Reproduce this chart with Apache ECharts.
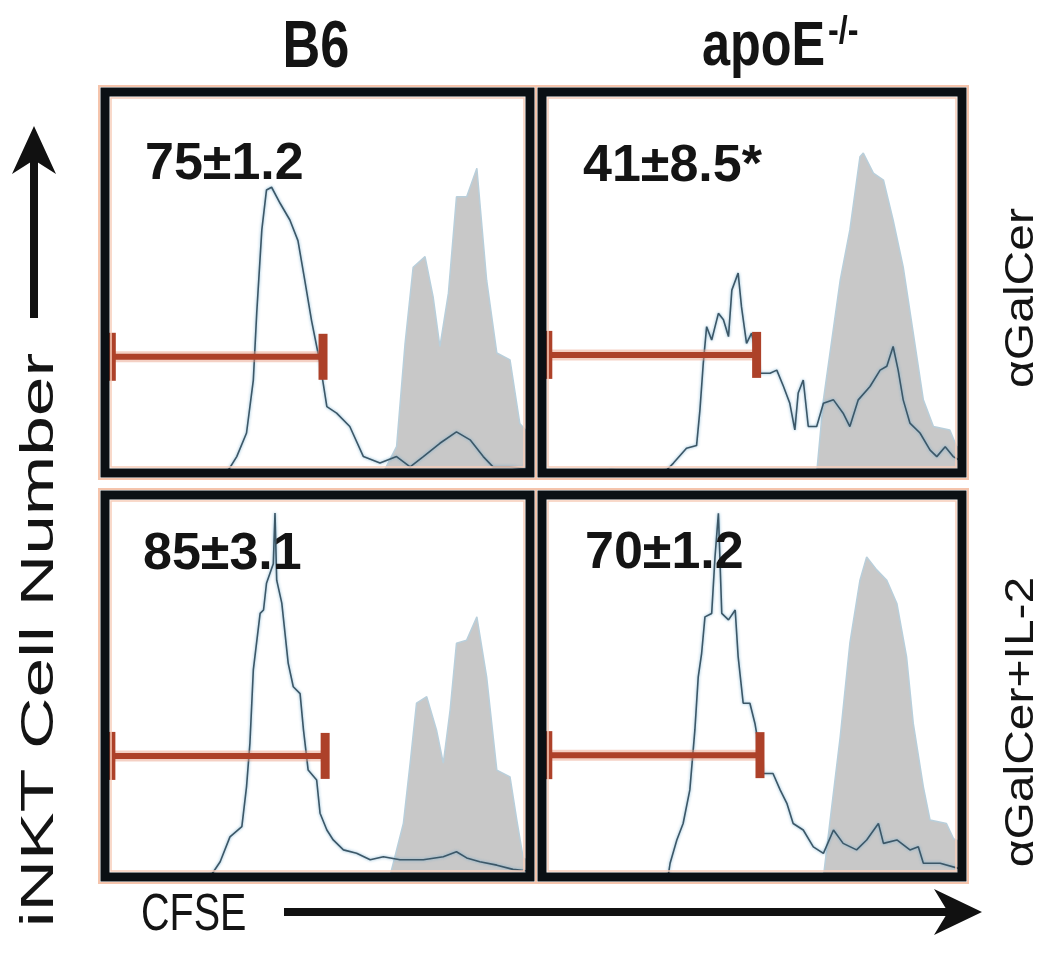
<!DOCTYPE html>
<html>
<head>
<meta charset="utf-8">
<script src="https://cdn.jsdelivr.net/npm/echarts@6/dist/echarts.min.js"></script>
<style>
  html, body { margin: 0; padding: 0; background: #fff; }
  #chart { width: 1050px; height: 976px; }
</style>
</head>
<body>
<div id="chart"></div>
<script>
// x = CFSE channel (0-100 across the panel), y = cell count (0-100 of panel height)
var colTitles = ['B6', 'apoE'];
var rowTitles = ['αGalCer', 'αGalCer+IL-2'];
var percentLabels = ['75±1.2', '41±8.5*', '85±3.1', '70±1.2'];

// open histograms (stimulated)
var openB6Gal = [[0,0],[28.6,0],[31,4.3],[33.3,10.5],[34.9,24.4],[35.7,42],[36.9,63.8],[38,74.3],[39.2,75],[41.2,70.8],[43.5,66.4],[45.4,61],[47,50.6],[48.6,40],[50.6,28.8],[52.2,17.4],[54.5,15.7],[57.6,12.2],[60.8,4.3],[64.7,2.6],[68.6,4.3],[71.8,1.6],[74.9,4.3],[78.8,7.8],[82.7,10.8],[85.9,8.7],[89,4.3],[91.3,1.6],[95.3,1.6],[100,1]];
var openApoGal = [[0,0],[16,0],[16.5,0.8],[17.5,0],[29,0],[31.3,2.6],[34.4,6.5],[36.8,7.2],[37.6,16.5],[38.4,28.8],[39.2,38.4],[40.4,34.9],[42,41.9],[43.2,40.2],[44.4,35.8],[45.2,48],[46.7,52.5],[47.5,43.6],[48.7,34],[49.9,36.7],[51.9,26.2],[54.3,26.2],[55.9,27],[57.5,22.7],[59,18.3],[60.2,11.3],[61,21],[62.2,24.4],[63.4,12.2],[65.4,12.2],[67,18.3],[69.4,19.2],[71.7,15.7],[73.3,12.2],[75.3,19.2],[78.1,22.7],[80.5,27],[82.1,28],[83.6,33.2],[84.8,27],[86,19.2],[87.6,13.1],[90,10.5],[92.4,6],[94,4.3],[96,6.9],[97.9,4.3],[100,3]];
var openB6Il2 = [[0,0],[24.7,0],[27.1,4],[29.4,10.5],[32.2,13.2],[33.3,23.6],[34.1,35],[34.9,54.2],[36.5,69],[37.3,69.9],[38,76.9],[39.6,82],[40,95.3],[40.4,77.7],[41.6,71.7],[43.1,56],[44.3,49.8],[45.9,48],[46.7,38.5],[47.8,28],[49.8,25.4],[50.6,16.7],[52.2,12.3],[53.7,9.7],[56.1,7.1],[59.2,6.2],[62.4,4.5],[65.5,5.3],[69.4,4.5],[74.9,4.5],[79.6,5.3],[82.7,6.6],[85.1,5],[88.2,4],[92.2,3.1],[96,2],[100,1.5]];
var openApoIl2 = [[0,0],[30,0],[30.5,3.6],[32.1,9.7],[33.6,14],[35.2,22.8],[36.4,38.5],[37.2,52.4],[38,58.5],[38.8,68.1],[40.4,69],[41.2,83.9],[42,95.2],[42.8,69],[44.4,67.3],[46,69.9],[46.7,57.7],[47.9,45.5],[49.5,45.5],[50.7,40.2],[52.7,27.1],[55,27.1],[56.7,22.8],[58.3,19.3],[59.8,14],[62.2,12.3],[64.6,7.9],[67,6.2],[69.4,12.3],[71.7,8.8],[74.9,7.1],[77.3,9.7],[80.1,14],[81.3,8.8],[84.5,9.7],[87.6,7.1],[89.6,7.9],[90.8,3.6],[94.8,3.6],[100,2]];

// filled histograms (unstimulated control)
var ctrlB6Gal = [[65.4,0],[68.6,6.9],[70.6,34],[72.5,54],[75.3,56.8],[77.2,46.3],[78.8,33.2],[80.8,47.2],[82.7,72.5],[85.1,72.5],[87.5,80],[89.8,50.6],[92.2,31.5],[95.3,29.7],[97.6,13],[100,10]];
var ctrlApoGal = [[65.4,0],[67,19.2],[71,50.6],[73.3,63.8],[75.7,83],[76.5,84],[78.9,78.7],[81.3,76.9],[83.6,66.4],[86,54.1],[88.4,36.7],[90.8,19.2],[93.2,12.2],[97.1,11.3],[98.7,7],[100,6]];
var ctrlB6Il2 = [[67,0],[70.2,14],[71.8,29.8],[73.3,45.5],[75.7,47.2],[78,38.5],[79.6,29.8],[81.2,43.7],[82.7,61.2],[85.1,62],[87.5,68.1],[89.8,52.4],[92.2,28],[95.3,26.2],[96.9,14.9],[98.4,5],[100,4]];
var ctrlApoIl2 = [[67,0],[68.6,14.9],[71,36.7],[73.3,61.2],[75.7,77.7],[77.3,83.8],[79.7,80.4],[82.1,77.7],[84.5,71.6],[86.8,57.7],[88.4,40.2],[90.8,23.6],[92.4,14.9],[96.3,14],[98,10],[100,9]];

// gate [from, to, level]
var gates = [[1.6, 51.3, 30.5], [1.5, 51.1, 31], [1.5, 51.8, 31.7], [1.5, 51.9, 31.9]];

var openData = [openB6Gal, openApoGal, openB6Il2, openApoIl2];
var ctrlData = [ctrlB6Gal, ctrlApoGal, ctrlB6Il2, ctrlApoIl2];

// layout of the 4 panels (centre line of the black frame)
var boxes = [
  { left: 105, top: 92, width: 425, height: 381 },
  { left: 542, top: 92, width: 420, height: 381 },
  { left: 105, top: 495, width: 425, height: 382 },
  { left: 542, top: 495, width: 420, height: 382 }
];
var labelPos = [[145, 165], [583, 167], [143, 555], [585, 554]];

var frameColor = '#0b1014';
var gateColor = '#ad4129';
var textColor = '#141414';

var grids = [], xAxes = [], yAxes = [], series = [], graphics = [];

boxes.forEach(function (b, i) {
  grids.push({ left: b.left, top: b.top, width: b.width, height: b.height, containLabel: false });
  xAxes.push({ type: 'value', gridIndex: i, min: 0, max: 100, show: false });
  yAxes.push({ type: 'value', gridIndex: i, min: 0, max: 100, show: false });

  series.push({                                   // control (filled grey)
    type: 'line', xAxisIndex: i, yAxisIndex: i,
    data: ctrlData[i], symbol: 'none', z: 1, silent: true,
    lineStyle: { color: '#b9cfdb', width: 1.5 },
    areaStyle: { color: '#c8c8c8', opacity: 1 }
  });
  series.push({                                   // stimulated (open line)
    type: 'line', xAxisIndex: i, yAxisIndex: i,
    data: openData[i], symbol: 'none', z: 3, silent: true,
    lineStyle: { color: '#3c5767', width: 1.6, shadowColor: 'rgba(110,170,205,0.9)', shadowBlur: 3 }
  });
  series.push({                                   // gate marker
    type: 'custom', xAxisIndex: i, yAxisIndex: i, z: 4, silent: true,
    encode: { x: [0, 1], y: 2 },
    data: [gates[i]],
    renderItem: function (params, api) {
      var a = api.coord([api.value(0), api.value(2)]);
      var c = api.coord([api.value(1), api.value(2)]);
      return {
        type: 'group',
        children: [
          { type: 'line', shape: { x1: a[0], y1: a[1], x2: c[0], y2: c[1] },
            style: { stroke: 'rgba(230,150,125,0.45)', lineWidth: 11 } },
          { type: 'line', shape: { x1: a[0], y1: a[1], x2: c[0], y2: c[1] },
            style: { stroke: gateColor, lineWidth: 6 } },
          { type: 'rect', shape: { x: a[0] - 4, y: a[1] - 24, width: 8, height: 48 }, style: { fill: gateColor } },
          { type: 'rect', shape: { x: c[0] - 4.5, y: c[1] - 23, width: 9, height: 46 }, style: { fill: gateColor } }
        ]
      };
    }
  });

  // salmon fringes + black frame
  graphics.push({ type: 'rect', z: 90, silent: true,
    shape: { x: b.left - 6, y: b.top - 6, width: b.width + 12, height: b.height + 12 },
    style: { fill: null, stroke: '#f5c4ac', lineWidth: 2 } });
  graphics.push({ type: 'rect', z: 90, silent: true,
    shape: { x: b.left + 6, y: b.top + 6, width: b.width - 12, height: b.height - 12 },
    style: { fill: null, stroke: '#f7cdb9', lineWidth: 1.5 } });
  graphics.push({ type: 'rect', z: 100, silent: true,
    shape: { x: b.left, y: b.top, width: b.width, height: b.height },
    style: { fill: null, stroke: frameColor, lineWidth: 9 } });

  graphics.push({ type: 'text', z: 110, x: labelPos[i][0], y: labelPos[i][1],
    style: { text: percentLabels[i], font: 'bold 52px "Liberation Sans", Arial, sans-serif',
      fill: textColor, align: 'left', verticalAlign: 'middle' } });
});

// column titles
graphics.push({ type: 'text', z: 110, x: 316, y: 49, scaleX: 0.78,
  style: { text: colTitles[0], font: 'bold 67px "Liberation Sans", Arial, sans-serif',
    fill: textColor, align: 'center', verticalAlign: 'middle' } });
graphics.push({ type: 'text', z: 110, x: 702, y: 48, scaleX: 0.8,
  style: { text: colTitles[1], font: 'bold 63px "Liberation Sans", Arial, sans-serif',
    fill: textColor, align: 'left', verticalAlign: 'middle' } });
graphics.push({ type: 'text', z: 110, x: 828, y: 33, scaleX: 0.85,
  style: { text: '-/-', font: 'bold 38px "Liberation Sans", Arial, sans-serif',
    fill: textColor, align: 'left', verticalAlign: 'middle' } });

// row titles (right side, reading upward)
graphics.push({ type: 'text', z: 110, x: 1022, y: 298, rotation: Math.PI / 2, scaleX: 1.2,
  style: { text: rowTitles[0], font: '40px "Liberation Sans", Arial, sans-serif',
    fill: textColor, align: 'center', verticalAlign: 'middle' } });
graphics.push({ type: 'text', z: 110, x: 1022, y: 722, rotation: Math.PI / 2, scaleX: 1.2,
  style: { text: rowTitles[1], font: '40px "Liberation Sans", Arial, sans-serif',
    fill: textColor, align: 'center', verticalAlign: 'middle' } });

// y axis label + arrow
graphics.push({ type: 'text', z: 110, x: 40, y: 640, rotation: Math.PI / 2, scaleX: 1.55,
  style: { text: 'iNKT Cell Number', font: '46px "Liberation Sans", Arial, sans-serif',
    fill: textColor, align: 'center', verticalAlign: 'middle' } });
graphics.push({ type: 'line', z: 110, silent: true,
  shape: { x1: 34, y1: 318, x2: 34, y2: 150 }, style: { stroke: '#111', lineWidth: 8 } });
graphics.push({ type: 'polygon', z: 110, silent: true,
  shape: { points: [[34, 126], [12, 174], [34, 160], [56, 174]] }, style: { fill: '#111' } });

// x axis label + arrow
graphics.push({ type: 'text', z: 110, x: 141, y: 916, scaleX: 0.76,
  style: { text: 'CFSE', font: '52px "Liberation Sans", Arial, sans-serif',
    fill: textColor, align: 'left', verticalAlign: 'middle' } });
graphics.push({ type: 'line', z: 110, silent: true,
  shape: { x1: 284, y1: 912, x2: 955, y2: 912 }, style: { stroke: '#111', lineWidth: 8 } });
graphics.push({ type: 'polygon', z: 110, silent: true,
  shape: { points: [[982, 912], [934, 889], [948, 912], [934, 935]] }, style: { fill: '#111' } });

var chart = echarts.init(document.getElementById('chart'), null, { renderer: 'canvas' });
chart.setOption({
  backgroundColor: '#ffffff',
  animation: false,
  grid: grids,
  xAxis: xAxes,
  yAxis: yAxes,
  series: series,
  graphic: graphics
});
</script>
</body>
</html>
